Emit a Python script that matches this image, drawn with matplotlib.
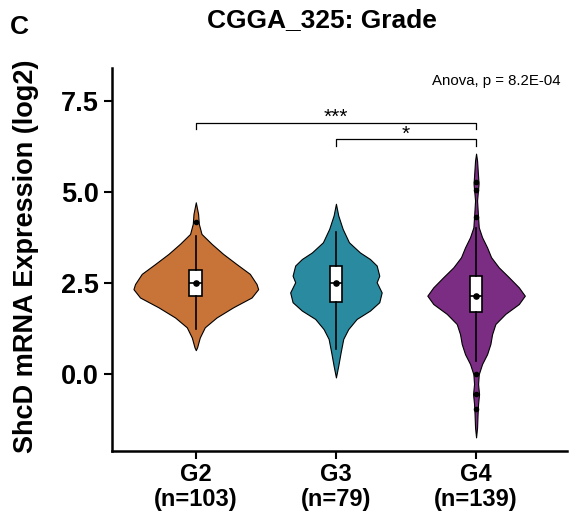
import numpy as np
import matplotlib
matplotlib.use("Agg")
import matplotlib.pyplot as plt

plt.rcParams['font.family'] = ['Liberation Sans', 'DejaVu Sans']

# groups and labels
groups = ["G2", "G3", "G4"]
counts = [103, 79, 139]
colors = ["#C87337", "#2A8BA0", "#7B2C83"]

# violin outlines: y values and half widths (px)
g2_y = [4.72, 4.40, 4.13, 3.85, 3.58, 3.30, 3.02, 2.75, 2.47, 2.33, 2.10, 1.83, 1.55, 1.28, 1.00, 0.73, 0.65]
g2_w = [0, 2.3, 3, 5.7, 15.7, 27.3, 40.7, 54, 60.7, 62.3, 55.7, 37.3, 20.7, 9, 4, 1.3, 0]
g3_y = [4.68, 4.36, 3.99, 3.62, 3.34, 3.16, 2.98, 2.70, 2.52, 2.24, 1.97, 1.74, 1.51, 1.23, 0.96, 0.59, 0.22, -0.10]
g3_w = [0, 2.3, 6.7, 13, 24, 34, 40.7, 43.3, 40.7, 45.7, 43.3, 34, 20.7, 12.3, 7.3, 4.7, 2.3, 0]
g4_y = [6.06, 5.87, 5.23, 4.77, 4.31, 4.03, 3.76, 3.48, 3.21, 2.93, 2.66, 2.38, 2.15, 1.92, 1.65,
        1.37, 1.09, 0.82, 0.54, 0.27, -0.01, -0.28, -0.56, -0.83, -1.11, -1.48, -1.75]
g4_w = [0, 1, 2.5, 1, 2, 2.7, 6, 11, 15, 22.7, 32.7, 42.7, 48.7, 42.7, 29.3, 19.3, 16, 14.3, 11,
        6, 2.7, 2, 3, 2, 1.5, 1, 0]

# box stats
q1 = [2.13, 1.98, 1.71]
med = [2.50, 2.50, 2.15]
q3 = [2.87, 2.96, 2.70]
whis_lo = [1.24, 0.68, 0.36]
whis_hi = [3.80, 3.91, 4.01]
fliers = [[4.17], [], [5.27, 5.05, 4.31, -0.01, -0.56, -0.97]]

pvalue_text = "Anova, p = 8.2E-04"

profiles = [(g2_y, g2_w), (g3_y, g3_w), (g4_y, g4_w)]
pos = np.arange(1, len(groups) + 1)

fig = plt.figure(figsize=(5.7, 5.17), dpi=100)
ax = fig.add_axes([0.196, 0.128, 0.799, 0.740])

vpstats = []
full_w = []
for (ys, ws), m in zip(profiles, med):
    vpstats.append({'coords': np.array(ys), 'vals': np.array(ws, dtype=float),
                    'mean': m, 'median': m, 'min': min(ys), 'max': max(ys)})
    full_w.append(2 * max(ws) / 140.0)  # 140 px per category step

vp = ax.violin(vpstats, positions=pos, widths=full_w, showmeans=False,
               showextrema=False, showmedians=False)
for body, c in zip(vp['bodies'], colors):
    body.set_facecolor(c)
    body.set_edgecolor('black')
    body.set_linewidth(0.8)
    body.set_alpha(1)

bstats = []
for i in range(len(groups)):
    bstats.append({'med': med[i], 'q1': q1[i], 'q3': q3[i], 'whislo': whis_lo[i],
                   'whishi': whis_hi[i], 'fliers': fliers[i]})
ax.bxp(bstats, positions=pos, widths=0.09, patch_artist=True, showcaps=False,
       boxprops=dict(facecolor='white', edgecolor='black', linewidth=1.2),
       medianprops=dict(color='black', linewidth=1.2),
       whiskerprops=dict(color='black', linewidth=1.2),
       flierprops=dict(marker='o', markersize=3, markerfacecolor='black',
                       markeredgecolor='black'), manage_ticks=False)
ax.scatter(pos, med, s=14, color='black', zorder=5)

# significance brackets
def bracket(x1, x2, y, label, h=0.17):
    ax.plot([x1, x1, x2, x2], [y - h, y, y, y - h], color='black', lw=0.9)
    ax.text((x1 + x2) / 2, y - 0.12, label, ha='center', va='bottom', fontsize=15)

bracket(1, 3, 6.91, "***")
bracket(2, 3, 6.45, "*")

ax.text(0.985, 0.985, pvalue_text, transform=ax.transAxes, ha='right', va='top', fontsize=10.8)

ax.set_xlim(0.4, 3.65)
ax.set_ylim(-2.12, 8.41)
ax.set_yticks([0.0, 2.5, 5.0, 7.5])
ax.set_yticklabels(["0.0", "2.5", "5.0", "7.5"], fontsize=19.5, fontweight='bold')
ax.set_xticks(pos)
ax.set_xticklabels([f"{g}\n(n={n})" for g, n in zip(groups, counts)],
                   fontsize=17, fontweight='bold', linespacing=1.1)
ax.tick_params(axis='both', width=1.5, length=6, color='black')
ax.tick_params(axis='y', pad=3)
ax.tick_params(axis='x', pad=3)
for s in ['top', 'right']:
    ax.spines[s].set_visible(False)
for s in ['left', 'bottom']:
    ax.spines[s].set_linewidth(1.8)

fig.text(0.045, 0.505, "ShcD mRNA Expression (log2)", rotation=90, ha='center', va='center',
         fontsize=19.5, fontweight='bold')
fig.text(0.565, 0.961, "CGGA_325: Grade", ha='center', va='center', fontsize=19, fontweight='bold')
fig.text(0.017, 0.947, "C", ha='left', va='center', fontsize=19, fontweight='bold')

fig.savefig("out.png", dpi=100)
